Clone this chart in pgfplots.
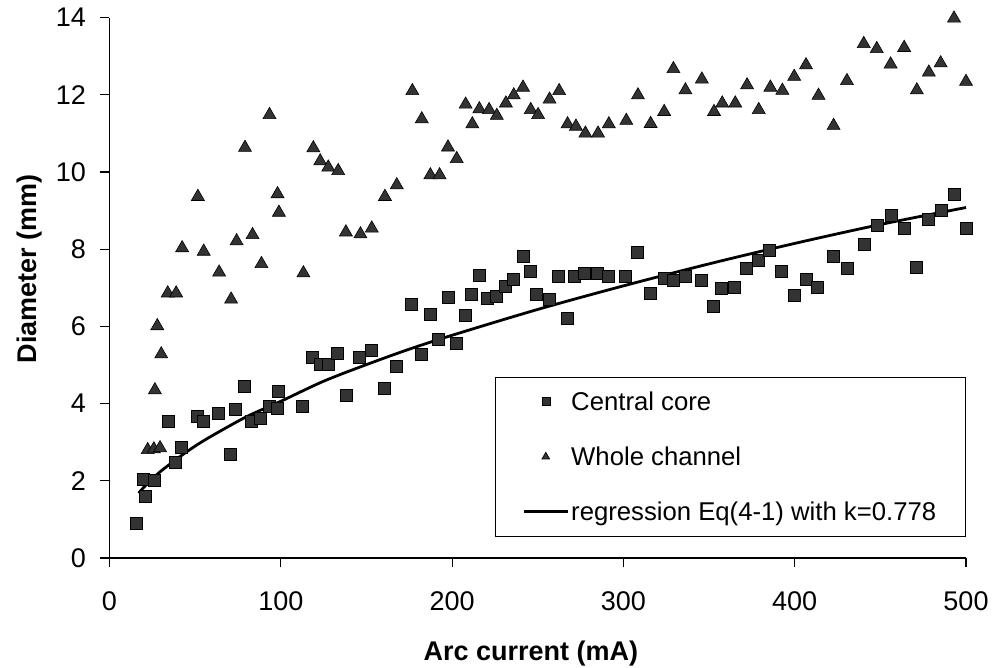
\documentclass[border=0pt]{standalone}
\usepackage{pgfplots}
\pgfplotsset{compat=1.18}
\usepackage{fontspec}
\setmainfont{Liberation Sans}
\pgfplotsset{
  legsq/.style={legend image code/.code={\draw[##1, mark size=4pt] plot coordinates {(22pt,0pt)};}},
  legtri/.style={legend image code/.code={\draw[##1, mark size=4.5pt] plot coordinates {(22pt,0pt)};}},
  legline/.style={legend image code/.code={\draw[##1] (0pt,0pt) -- (44pt,0pt);}},
}
\begin{document}
\begin{tikzpicture}
\path[use as bounding box] (-109.5pt,-109pt) rectangle (885.5pt,558pt);
\begin{axis}[
  at={(0pt,0pt)}, anchor=south west,
  scale only axis, width=856.5pt, height=540.4pt,
  xmin=0, xmax=500, ymin=0, ymax=14,
  axis x line=bottom, axis y line=left,
  axis line style={-, line width=1.2pt},
  xtick={0,100,...,500}, ytick={0,2,...,14},
  tick align=outside, major tick length=9pt,
  tick style={line width=1.2pt, black},
  /pgf/number format/assume math mode=true,
  ticklabel style={font=\fontsize{27}{32}\selectfont},
  xticklabel style={yshift=-21pt},
  yticklabel style={xshift=-11pt},
  xlabel={Arc current (mA)}, ylabel={Diameter (mm)},
  label style={font=\bfseries\fontsize{27}{32}\selectfont},
  xlabel style={at={(axis description cs:0.492,-0.176)}, anchor=center},
  ylabel style={at={(axis description cs:-0.093,0.535)}, anchor=center},
  clip=false,
  legend style={at={(axis description cs:0.45,0.039)}, anchor=south west, draw=black, line width=1pt,
    font=\fontsize{25.7}{30}\selectfont, row sep=31pt, inner xsep=27pt, inner ysep=12.5pt},
  legend cell align=left,
]
\addplot[only marks, mark=square*, mark size=6pt, mark options={fill=gray!40!black, draw=black, line width=0.6pt}, legsq]
coordinates {
(15.6,0.89) (21.0,1.59) (19.6,2.04) (25.9,2.01) (38.2,2.49) (42.1,2.86) (34.3,3.54) (51.1,3.66)
(54.9,3.55) (63.5,3.76) (70.3,2.69) (73.7,3.85) (78.6,4.46) (82.8,3.54) (88.2,3.61) (93.4,3.92)
(97.8,3.89) (98.7,4.33) (112.5,3.94) (118.4,5.19) (123.1,5.02) (128.0,5.02) (133.2,5.30) (138.0,4.22)
(146.1,5.19) (153.0,5.39) (160.4,4.40) (167.2,4.97) (176.4,6.58) (181.8,5.27) (187.3,6.31) (192.0,5.67)
(197.5,6.75) (202.3,5.56) (207.6,6.30) (211.3,6.82) (215.8,7.32) (220.6,6.74) (225.7,6.79) (231.0,7.05)
(235.6,7.23) (241.3,7.81) (245.7,7.44) (249.4,6.82) (256.8,6.70) (262.1,7.29) (267.2,6.21) (271.5,7.29)
(277.3,7.38) (285.0,7.38) (291.3,7.29) (301.0,7.29) (307.9,7.91) (315.6,6.85) (323.6,7.25) (329.1,7.20)
(336.0,7.29) (345.4,7.20) (352.6,6.51) (357.4,6.99) (365.0,7.01) (372.0,7.51) (378.8,7.70) (385.4,7.98)
(392.4,7.44) (399.5,6.81) (406.7,7.22) (413.4,7.01) (422.7,7.81) (430.9,7.51) (440.5,8.12) (448.1,8.63)
(456.2,8.87) (463.7,8.53) (471.2,7.53) (478.0,8.78) (485.3,9.02) (492.9,9.42) (499.9,8.53)
};
\addlegendentry{Central core}
\addplot[only marks, mark=triangle*, mark size=7.5pt, mark options={fill=gray!40!black, draw=black, line width=0.6pt}, legtri]
coordinates {
(22.3,2.80) (25.9,2.82) (29.5,2.85) (26.5,4.35) (30.2,5.28) (27.9,6.01) (34.0,6.86) (38.9,6.86)
(42.4,8.03) (55.0,7.94) (51.6,9.36) (64.0,7.40) (71.0,6.70) (74.2,8.21) (79.1,10.63) (83.5,8.37)
(88.7,7.62) (93.4,11.48) (98.1,9.43) (98.9,8.95) (113.2,7.38) (119.0,10.62) (123.0,10.28) (127.7,10.12)
(133.5,10.03) (138.0,8.44) (146.5,8.39) (153.1,8.54) (160.8,9.36) (167.7,9.66) (176.8,12.10) (182.3,11.37)
(187.3,9.92) (192.7,9.92) (197.6,10.64) (202.7,10.34) (207.9,11.75) (211.8,11.24) (215.9,11.63) (221.6,11.61)
(226.1,11.46) (231.4,11.78) (236.0,11.99) (241.4,12.19) (245.9,11.61) (250.2,11.48) (256.9,11.88) (262.5,12.10)
(267.4,11.24) (272.3,11.18) (277.8,11.00) (285.2,11.00) (291.5,11.24) (301.7,11.33) (308.5,11.99) (315.9,11.25)
(323.8,11.56) (329.2,12.67) (336.2,12.12) (345.8,12.40) (352.9,11.56) (357.7,11.78) (365.3,11.78) (372.2,12.25)
(379.0,11.61) (385.8,12.19) (392.8,12.11) (399.7,12.47) (406.6,12.77) (413.9,11.98) (422.7,11.20) (430.5,12.36)
(440.3,13.32) (447.9,13.19) (456.0,12.79) (463.9,13.22) (471.3,12.12) (478.3,12.58) (485.2,12.82) (493.0,13.98)
(500.0,12.34)
};
\addlegendentry{Whole channel}
\addplot[black, line width=2.8pt, smooth, legline]
coordinates {
(17,1.68) (20,1.83) (25,2.05) (30,2.25) (40,2.59) (50,2.90) (60,3.17) (80,3.66) (100,4.06)
(125,4.58) (150,5.01) (175,5.41) (200,5.77) (250,6.44) (300,7.05) (350,7.62) (400,8.15)
(450,8.64) (500,9.08)
};
\addlegendentry{regression Eq(4-1) with k=0.778}
\end{axis}
\end{tikzpicture}
\end{document}
